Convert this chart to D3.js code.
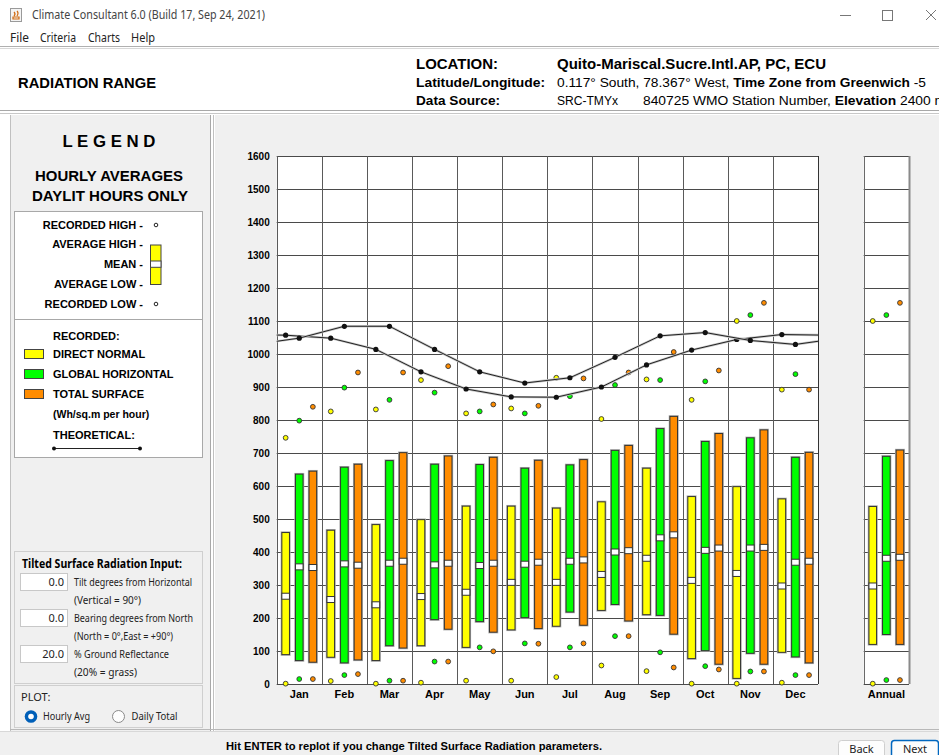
<!DOCTYPE html>
<html>
<head>
<meta charset="utf-8">
<script src="https://cdn.jsdelivr.net/npm/d3@7"></script>
<style>
body { margin: 0; background: #fff; }
svg { display: block; font-family: "Liberation Sans", Arial, sans-serif; }
</style>
</head>
<body>
<svg id="win" width="939" height="755"></svg>
<script>
// months + series keys
const months = ["Jan", "Feb", "Mar", "Apr", "May", "Jun", "Jul", "Aug", "Sep", "Oct", "Nov", "Dec"];
const series = ["dn", "gh", "ts"];
const seriesNames = ["DIRECT NORMAL", "GLOBAL HORIZONTAL", "TOTAL SURFACE"];
const seriesColors = ["#ffff00", "#00ff00", "#ff8c00"];
const yTicks = [0, 100, 200, 300, 400, 500, 600, 700, 800, 900, 1000, 1100, 1200, 1300, 1400, 1500, 1600];

// direct normal (yellow)
const dnRecHigh = [746, 826, 832, 921, 820, 835, 928, 803, 923, 861, 1100, 892];
const dnAvgHigh = [459, 466, 483, 498, 539, 539, 533, 552, 654, 568, 598, 561];
const dnMean    = [266, 256, 240, 265, 278, 308, 308, 332, 381, 314, 335, 297];
const dnAvgLow  = [89, 81, 71, 116, 111, 164, 175, 223, 210, 77, 17, 96];
const dnRecLow  = [1, 9, 1, 4, 10, 10, 21, 56, 39, 1, 1, 4];

// global horizontal (green)
const ghRecHigh = [798, 898, 861, 883, 826, 820, 872, 906, 921, 917, 1118, 939];
const ghAvgHigh = [636, 657, 677, 666, 665, 654, 664, 708, 774, 735, 746, 687];
const ghMean    = [355, 364, 366, 361, 359, 363, 372, 400, 443, 405, 412, 369];
const ghAvgLow  = [71, 64, 116, 195, 189, 201, 218, 241, 208, 101, 93, 82];
const ghRecLow  = [15, 27, 10, 68, 111, 123, 111, 145, 96, 54, 38, 27];

// total surface (orange)
const tsRecHigh = [840, 944, 944, 963, 847, 843, 926, 944, 1006, 950, 1155, 892];
const tsAvgHigh = [645, 666, 701, 691, 687, 678, 680, 723, 811, 759, 770, 702];
const tsMean    = [353, 360, 372, 366, 366, 369, 376, 404, 452, 412, 414, 372];
const tsAvgLow  = [66, 73, 109, 166, 157, 168, 178, 191, 151, 60, 60, 64];
const tsRecLow  = [15, 30, 10, 68, 99, 122, 123, 145, 50, 44, 38, 27];

// annual, in series order dn, gh, ts
const annRecHigh = [1100, 1118, 1155];
const annAvgHigh = [538, 690, 709];
const annMean    = [297, 381, 384];
const annAvgLow  = [120, 150, 120];
const annRecLow  = [1, 12, 12];

// theoretical lines
const theoDn = [1057, 1048, 1014, 946, 894, 870, 869, 900, 967, 1012, 1044, 1059];
const theoGh = [1048, 1084, 1084, 1014, 946, 912, 928, 990, 1055, 1065, 1041, 1029];

const recHigh = {dn: dnRecHigh, gh: ghRecHigh, ts: tsRecHigh};
const avgHigh = {dn: dnAvgHigh, gh: ghAvgHigh, ts: tsAvgHigh};
const mean = {dn: dnMean, gh: ghMean, ts: tsMean};
const avgLow = {dn: dnAvgLow, gh: ghAvgLow, ts: tsAvgLow};
const recLow = {dn: dnRecLow, gh: ghRecLow, ts: tsRecLow};

const svg = d3.select("#win");

function txt(g, x, y, s, o) {
    o = o || {};
    const t = g.append("text")
        .attr("x", x).attr("y", y).attr("dy", "0.35em")
        .attr("font-size", o.size || 11)
        .attr("font-weight", o.bold ? "bold" : null)
        .attr("text-anchor", o.anchor || "start")
        .attr("fill", o.fill || "#000")
        .text(s);
    if (o.family) t.attr("font-family", o.family);
    if (o.w) t.attr("textLength", o.w).attr("lengthAdjust", "spacingAndGlyphs");
    return t;
}
function hline(g, x1, x2, yy, c, w) {
    g.append("line").attr("x1", x1).attr("x2", x2).attr("y1", yy).attr("y2", yy)
        .attr("stroke", c).attr("stroke-width", w || 1);
}
function vline(g, xx, y1, y2, c, w) {
    g.append("line").attr("x1", xx).attr("x2", xx).attr("y1", y1).attr("y2", y2)
        .attr("stroke", c).attr("stroke-width", w || 1);
}
const ui = "'Noto Sans', 'Open Sans', sans-serif";

// ---------- window chrome ----------
const chrome = svg.append("g");
chrome.append("rect").attr("width", 939).attr("height", 755).attr("fill", "#fff");
chrome.append("rect").attr("x", 10.5).attr("y", 8.5).attr("width", 11).attr("height", 13)
    .attr("fill", "#f4f4f4").attr("stroke", "#9a9a9a");
chrome.append("path").attr("d", "M13,17 h6 v2 h-6 z M14,12 q2,2 0,4 M17,11 q2,2 0,5")
    .attr("fill", "none").attr("stroke", "#d06a10").attr("stroke-width", 1.2);
txt(chrome, 32, 15, "Climate Consultant 6.0 (Build 17, Sep 24, 2021)", {size: 12, fill: "#444", family: ui, w: 233});
hline(chrome, 840, 851, 15.5, "#777");
chrome.append("rect").attr("x", 882.5).attr("y", 10.5).attr("width", 10).attr("height", 10)
    .attr("fill", "none").attr("stroke", "#777");
chrome.append("path").attr("d", "M926,10 l10,10 M936,10 l-10,10").attr("stroke", "#777");

txt(chrome, 10, 38, "File", {size: 12, family: ui, fill: "#222", w: 19});
txt(chrome, 40, 38, "Criteria", {size: 12, family: ui, fill: "#222", w: 36});
txt(chrome, 88, 38, "Charts", {size: 12, family: ui, fill: "#222", w: 32});
txt(chrome, 131, 38, "Help", {size: 12, family: ui, fill: "#222", w: 24});
hline(chrome, 0, 939, 46.5, "#b0b0b0");
hline(chrome, 0, 939, 48.5, "#d8d8d8");

// ---------- header ----------
const head = svg.append("g");
txt(head, 18, 83, "RADIATION RANGE", {size: 15, bold: true, w: 138});
txt(head, 416, 64, "LOCATION:", {size: 15, bold: true, w: 82});
txt(head, 557, 64, "Quito-Mariscal.Sucre.Intl.AP, PC, ECU", {size: 15, bold: true, w: 269});
txt(head, 416, 83, "Latitude/Longitude:", {size: 12, bold: true, w: 129});
txt(head, 416, 101, "Data Source:", {size: 12, bold: true, w: 84});
const lat = txt(head, 557, 83, "", {size: 12, w: 369});
lat.append("tspan").text("0.117\u00b0 South, 78.367\u00b0 West, ");
lat.append("tspan").attr("font-weight", "bold").text("Time Zone from Greenwich");
lat.append("tspan").text(" -5");
txt(head, 557, 101, "SRC-TMYx", {size: 12, w: 61});
const src = txt(head, 643, 101, "", {size: 12, w: 303});
src.append("tspan").text("840725 WMO Station Number, ");
src.append("tspan").attr("font-weight", "bold").text("Elevation");
src.append("tspan").text(" 2400 m");
hline(head, 0, 939, 110.5, "#a8a8a8");
hline(head, 0, 939, 113.5, "#c8c8c8");

// ---------- panels ----------
const panels = svg.append("g");
panels.append("rect").attr("x", 10).attr("y", 115).attr("width", 200).attr("height", 616).attr("fill", "#f0f0f0");
panels.append("rect").attr("x", 215).attr("y", 115).attr("width", 724).attr("height", 616).attr("fill", "#f0f0f0");
panels.append("rect").attr("x", 0).attr("y", 732).attr("width", 939).attr("height", 23).attr("fill", "#f0f0f0");
vline(panels, 10.5, 115, 731, "#c0c0c0");
vline(panels, 210.5, 115, 731, "#a8a8a8");
vline(panels, 213.5, 115, 731, "#c0c0c0");
hline(panels, 10, 939, 729.5, "#b8b8b8");
hline(panels, 0, 939, 731.5, "#d8d8d8");

// ---------- legend ----------
const leg = svg.append("g");
txt(leg, 109, 141, "L E G E N D", {size: 17, bold: true, anchor: "middle", w: 93});
txt(leg, 109, 176, "HOURLY AVERAGES", {size: 15, bold: true, anchor: "middle", w: 148});
txt(leg, 110, 196, "DAYLIT HOURS ONLY", {size: 15, bold: true, anchor: "middle", w: 156});

leg.append("rect").attr("x", 14.5).attr("y", 211.5).attr("width", 188).attr("height", 108)
    .attr("fill", "#fff").attr("stroke", "#a8a8a8");
leg.append("rect").attr("x", 14.5).attr("y", 319.5).attr("width", 188).attr("height", 138)
    .attr("fill", "#fff").attr("stroke", "#a8a8a8");

const keyRows = [["RECORDED HIGH -", 225], ["AVERAGE HIGH -", 244], ["MEAN -", 264], ["AVERAGE LOW -", 284], ["RECORDED LOW -", 304]];
keyRows.forEach(r => txt(leg, 143, r[1], r[0], {size: 11, bold: true, anchor: "end"}));
[225, 304].forEach(v => leg.append("circle").attr("cx", 156).attr("cy", v).attr("r", 1.8)
    .attr("fill", "#fff").attr("stroke", "#222"));
leg.append("rect").attr("x", 150.5).attr("y", 245).attr("width", 10.5).attr("height", 39.5)
    .attr("fill", seriesColors[0]).attr("stroke", "#444");
leg.append("rect").attr("x", 150.5).attr("y", 261).attr("width", 10.5).attr("height", 6.3)
    .attr("fill", "#fff").attr("stroke", "#444");

txt(leg, 53, 336, "RECORDED:", {size: 11, bold: true});
seriesNames.forEach((n, i) => {
    leg.append("rect").attr("x", 24.5).attr("y", 349.5 + i * 20).attr("width", 19).attr("height", 9)
        .attr("fill", seriesColors[i]).attr("stroke", "#444");
    txt(leg, 53, 354 + i * 20, n, {size: 11, bold: true});
});
txt(leg, 53, 414, "(Wh/sq.m per hour)", {size: 10.5, bold: true});
txt(leg, 53, 435, "THEORETICAL:", {size: 11, bold: true});
hline(leg, 54, 140, 448.5, "#222");
[54, 140].forEach(v => leg.append("circle").attr("cx", v).attr("cy", 448.5).attr("r", 2).attr("fill", "#111"));

// tilted surface input
const tilt = svg.append("g");
tilt.append("rect").attr("x", 14.5).attr("y", 551.5).attr("width", 188).attr("height", 132)
    .attr("fill", "#f0f0f0").attr("stroke", "#cfcfcf");
txt(tilt, 22, 564, "Tilted Surface Radiation Input:", {size: 12, bold: true, w: 160, family: ui});
const inputs = [["0.0", 573.5, "Tilt degrees from Horizontal", "(Vertical = 90\u00b0)", 118, 67],
                ["0.0", 609.5, "Bearing degrees from North", "(North = 0\u00b0,East = +90\u00b0)", 119, 99],
                ["20.0", 645.5, "% Ground Reflectance", "(20% = grass)", 95, 63]];
inputs.forEach(d => {
    tilt.append("rect").attr("x", 20.5).attr("y", d[1]).attr("width", 47).attr("height", 17)
        .attr("fill", "#fff").attr("stroke", "#c8c8c8");
    txt(tilt, 64, d[1] + 9, d[0], {size: 11, anchor: "end", family: ui, fill: "#222"});
    txt(tilt, 74, d[1] + 9, d[2], {size: 11, family: ui, fill: "#222", w: d[4]});
    txt(tilt, 74, d[1] + 27, d[3], {size: 11, family: ui, fill: "#222", w: d[5]});
});
tilt.append("rect").attr("x", 14.5).attr("y", 685.5).attr("width", 188).attr("height", 42)
    .attr("fill", "#f0f0f0").attr("stroke", "#cfcfcf");
txt(tilt, 21, 697.5, "PLOT:", {size: 11, family: ui, fill: "#222"});
tilt.append("circle").attr("cx", 31).attr("cy", 716.5).attr("r", 6.3).attr("fill", "#005fb8");
tilt.append("circle").attr("cx", 31).attr("cy", 716.5).attr("r", 2.8).attr("fill", "#fff");
txt(tilt, 43, 716.5, "Hourly Avg", {size: 11, family: ui, fill: "#222", w: 47});
tilt.append("circle").attr("cx", 118.5).attr("cy", 716.5).attr("r", 6).attr("fill", "#fdfdfd").attr("stroke", "#8a8a8a");
txt(tilt, 131.5, 716.5, "Daily Total", {size: 11, family: ui, fill: "#222", w: 46});

// ---------- chart ----------
const x = d3.scaleBand().domain(months).range([276.7, 818]);
const xA = d3.scaleBand().domain(["Annual"]).range([863.7, 909]);
const y = d3.scaleLinear().domain([0, 1600]).range([684, 156]);
const sub = d3.scalePoint().domain(series).range([-13.6, 13.6]);
const bw = 7.6;

const chart = svg.append("g");
const frames = [[x.range()[0], x.range()[1]], [xA.range()[0], xA.range()[1]]];
frames.forEach(f => chart.append("rect").attr("x", f[0]).attr("y", y(1600))
    .attr("width", f[1] - f[0]).attr("height", y(0) - y(1600)).attr("fill", "#fff"));

// grid
frames.forEach(f => yTicks.forEach(t => hline(chart, f[0], f[1], Math.round(y(t)) + 0.5, "#4a4a4a")));
months.forEach(m => vline(chart, Math.round(x(m)) + 0.5, y(1600), y(0), "#5a5a5a"));
vline(chart, Math.round(x.range()[1]) + 0.5, y(1600), y(0), "#333");
vline(chart, Math.round(xA.range()[0]) + 0.5, y(1600), y(0), "#6a6a6a");
vline(chart, Math.round(xA.range()[1]) + 0.5, y(1600), y(0), "#8a8a8a", 2);

// axes
const yAx = chart.append("g").attr("transform", `translate(${x.range()[0]},0)`)
    .call(d3.axisLeft(y).tickValues(yTicks).tickFormat(d3.format("d")).tickSize(0).tickPadding(7));
yAx.select(".domain").remove();
yAx.selectAll("text").attr("font-size", 10).attr("font-weight", "bold").attr("font-family", "'Liberation Sans', Arial, sans-serif");
[x, xA].forEach(sc => {
    const g = chart.append("g").attr("transform", `translate(0,${y(0)})`)
        .call(d3.axisBottom(sc).tickSize(0).tickPadding(6.5));
    g.select(".domain").remove();
    g.selectAll("text").attr("font-size", 11).attr("font-weight", "bold").attr("font-family", "'Liberation Sans', Arial, sans-serif");
});

// rows for the boxes
const rows = [];
months.forEach((m, i) => series.forEach((s, k) => rows.push({
    cx: x(m) + x.bandwidth() / 2 + sub(s), color: seriesColors[k],
    hi: recHigh[s][i], ah: avgHigh[s][i], mn: mean[s][i], al: avgLow[s][i], lo: recLow[s][i]
})));
series.forEach((s, k) => rows.push({
    cx: xA("Annual") + xA.bandwidth() / 2 + sub(s), color: seriesColors[k],
    hi: annRecHigh[k], ah: annAvgHigh[k], mn: annMean[k], al: annAvgLow[k], lo: annRecLow[k]
}));

const bars = chart.append("g");
bars.selectAll("rect.halo").data(rows).join("rect").attr("class", "halo")
    .attr("x", d => d.cx - bw / 2).attr("y", d => y(d.ah))
    .attr("width", bw).attr("height", d => y(d.al) - y(d.ah))
    .attr("fill", "none").attr("stroke", "#b0b0b0").attr("stroke-width", 2.4);
bars.selectAll("rect.bar").data(rows).join("rect").attr("class", "bar")
    .attr("x", d => d.cx - bw / 2).attr("y", d => y(d.ah))
    .attr("width", bw).attr("height", d => y(d.al) - y(d.ah))
    .attr("fill", d => d.color).attr("stroke", "#333").attr("stroke-width", 1);
bars.selectAll("rect.mean").data(rows).join("rect").attr("class", "mean")
    .attr("x", d => d.cx - bw / 2).attr("y", d => y(d.mn) - 3)
    .attr("width", bw).attr("height", 6)
    .attr("fill", "#fff").attr("stroke", "#333").attr("stroke-width", 1);

const dots = chart.append("g");
["hi", "lo"].forEach(key => dots.selectAll("circle." + key).data(rows).join("circle").attr("class", key)
    .attr("cx", d => d.cx).attr("cy", d => y(d[key])).attr("r", 2.4)
    .attr("fill", d => d.color).attr("stroke", "#333").attr("stroke-width", 0.9));

// theoretical lines, wrapped Dec -> Jan at the edges
chart.append("clipPath").attr("id", "plotclip").append("rect")
    .attr("x", x.range()[0]).attr("y", y(1600))
    .attr("width", x.range()[1] - x.range()[0]).attr("height", y(0) - y(1600));
const theo = chart.append("g").attr("clip-path", "url(#plotclip)");
const line = d3.line().x(d => d[0]).y(d => y(d[1]));
[[theoDn, "dn"], [theoGh, "gh"]].forEach(([vals, s]) => {
    const pos = m => x(m) + x.bandwidth() / 2 + sub(s);
    const pts = months.map((m, i) => [pos(m), vals[i]]);
    const span = x.step() * months.length;
    const all = [[pos("Dec") - span, vals[11]], ...pts, [pos("Jan") + span, vals[0]]];
    theo.append("path").attr("d", line(all)).attr("fill", "none").attr("stroke", "#c8c8c8").attr("stroke-width", 2.4);
    theo.append("path").attr("d", line(all)).attr("fill", "none").attr("stroke", "#222").attr("stroke-width", 1);
    theo.selectAll(null).data(pts).join("circle")
        .attr("cx", d => d[0]).attr("cy", d => y(d[1])).attr("r", 2.6).attr("fill", "#111");
});

// ---------- footer ----------
const foot = svg.append("g");
txt(foot, 226, 746, "Hit ENTER to replot if you change Tilted Surface Radiation parameters.", {size: 11, bold: true, w: 376});
foot.append("rect").attr("x", 838.5).attr("y", 740.5).attr("width", 46).attr("height", 22).attr("rx", 3)
    .attr("fill", "#fdfdfd").attr("stroke", "#cfcfcf");
txt(foot, 861.5, 749, "Back", {size: 11, family: ui, anchor: "middle", fill: "#222"});
foot.append("rect").attr("x", 891.5).attr("y", 740.5).attr("width", 47).attr("height", 22).attr("rx", 3)
    .attr("fill", "#fdfdfd").attr("stroke", "#0067c0").attr("stroke-width", 1.5);
txt(foot, 915, 749, "Next", {size: 11, family: ui, anchor: "middle", fill: "#222"});
</script>
</body>
</html>
